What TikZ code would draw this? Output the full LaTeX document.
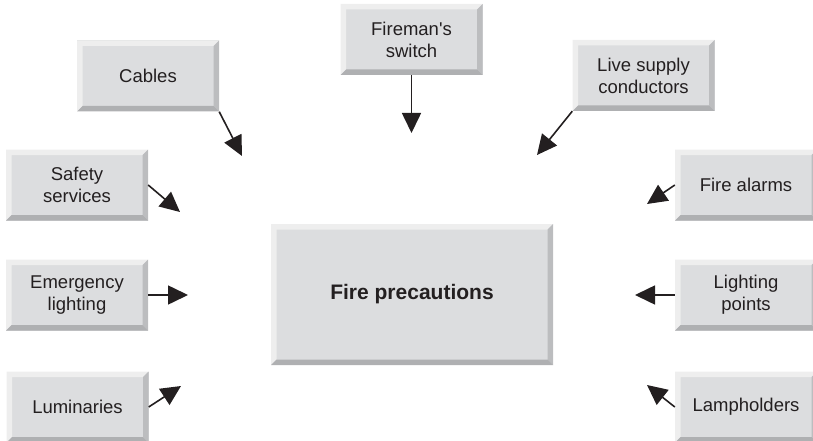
\documentclass[tikz,border=0pt]{standalone}
\usepackage{fontspec}
\setmainfont{Liberation Sans}
\usetikzlibrary{arrows.meta}

\definecolor{faceGray}{HTML}{DCDDDF}
\definecolor{liteGray}{HTML}{EEEEEE}
\definecolor{sideGray}{HTML}{BCBDBF}
\definecolor{darkGray}{HTML}{AFB0B2}
\definecolor{inkGray}{HTML}{231F20}

\begin{document}
\begin{tikzpicture}
[x=1pt,y=-1pt,
  bevelDecorate/.style={shape=rectangle,fill=faceGray,inner sep=0pt,align=center,
    text=inkGray,font=\fontsize{18.5}{22}\selectfont,
    minimum width=142pt,minimum height=71pt,
    path picture={
      \coordinate (bbsw) at (path picture bounding box.south west);
      \coordinate (bbne) at (path picture bounding box.north east);
      \coordinate (bbnw) at (path picture bounding box.north west);
      \coordinate (bbse) at (path picture bounding box.south east);
      % light top and left edge
      \fill[liteGray] (bbsw) -- (bbnw) -- (bbne) -- ([shift={(-5.5pt,-5.5pt)}]bbne)
        -- ([shift={(5.5pt,-5.5pt)}]bbnw) -- ([shift={(5.5pt,5.5pt)}]bbsw) -- cycle;
      % shaded right edge
      \fill[sideGray] (bbne) -- (bbse) -- ([shift={(-5.5pt,5.5pt)}]bbse)
        -- ([shift={(-5.5pt,-5.5pt)}]bbne) -- cycle;
      % shaded bottom edge
      \fill[darkGray] (bbsw) -- (bbse) -- ([shift={(-5.5pt,5.5pt)}]bbse)
        -- ([shift={(5.5pt,5.5pt)}]bbsw) -- cycle;
    }},
  arrowDecorate/.style={-{Triangle[length=20pt,width=19pt]},line width=1.6pt,draw=inkGray}]
\useasboundingbox (0,0) rectangle (813,441);
%% the central box
\node (main) at (412,294.5) [bevelDecorate,minimum width=282pt,minimum height=141pt,
  font=\fontsize{21}{25}\selectfont\bfseries] {Fire precautions};
%% the boxes round it
\foreach \nodename/\x/\y/\txt in {
  cables/148/76/Cables, fireman/411.5/39.5/{Fireman\textquotesingle s\\switch}, live/643.5/75.5/{Live supply\\conductors},
  safety/77/185/{Safety\\services}, emergency/77/295/{Emergency\\lighting}, luminaries/77.5/407/Luminaries,
  alarms/746/185/Fire alarms, points/746/295/{Lighting\\points}, lampholders/746/407/Lampholders}
{
  \node (\nodename) at (\x,\y) [bevelDecorate] {\txt};
}
%% where the arrows point
\foreach \tipname/\x/\y in {
  cablesTip/242/156, firemanTip/411.5/133, liveTip/537/155,
  safetyTip/180/212, emergencyTip/188/295, luminariesTip/181/386,
  alarmsTip/647/204, pointsTip/635/295, lampholdersTip/647/385}
{
  \coordinate (\tipname) at (\x,\y);
}
%% arrows
\foreach \startnode/\endnode in {
  cables.south east/cablesTip, fireman.south/firemanTip, live.south west/liveTip,
  safety.east/safetyTip, emergency.east/emergencyTip, luminaries.east/luminariesTip,
  alarms.west/alarmsTip, points.west/pointsTip, lampholders.west/lampholdersTip}
{
  \draw[arrowDecorate] (\startnode) -- (\endnode);
}
\end{tikzpicture}
\end{document}
